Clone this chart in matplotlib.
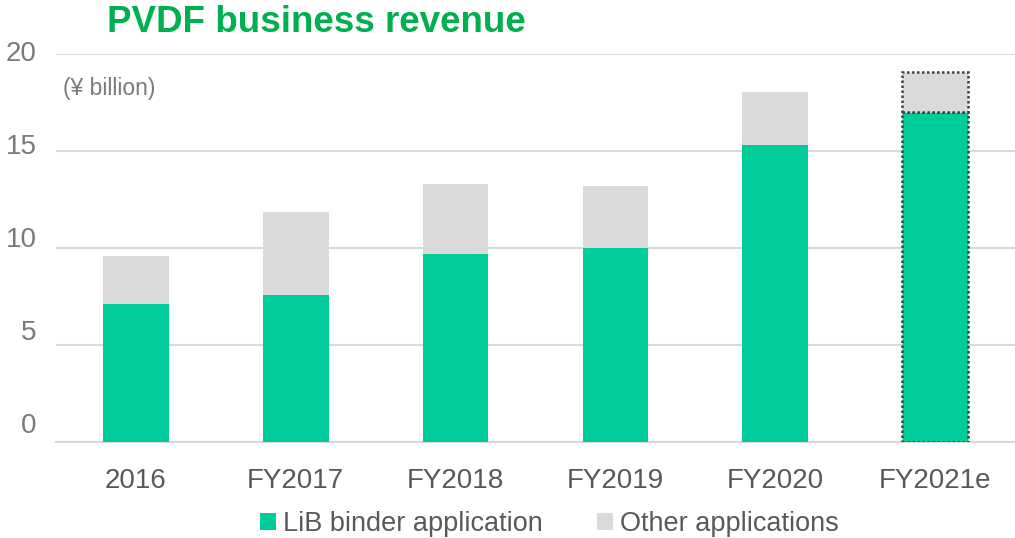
import matplotlib
matplotlib.use("Agg")
import matplotlib.pyplot as plt
import matplotlib.transforms as mtransforms
from matplotlib.patches import Patch

plt.rcParams['font.family'] = ['Liberation Sans', 'DejaVu Sans']

categories = ["2016", "FY2017", "FY2018", "FY2019", "FY2020", "FY2021e"]
lib_binder = [7.1, 7.6, 9.7, 10.0, 15.3, 17.0]
other_apps = [2.5, 4.25, 3.6, 3.2, 2.75, 2.05]
y_ticks = [0, 5, 10, 15, 20]

green = "#00CC99"
grey = "#DADADA"
text_col = "#595959"
ytext_col = "#7A7A7A"
grid_col = "#D9D9D9"

fig = plt.figure(figsize=(10.15, 5.38), dpi=100)
ax = fig.add_axes([56/1015, 96/538, 959/1015, 388/538])

x = list(range(len(categories)))
w = 0.41
b1 = ax.bar(x, lib_binder, width=w, color=green, zorder=3)
b2 = ax.bar(x, other_apps, width=w, bottom=lib_binder, color=grey, zorder=3)

# estimate bar outlined dotted
for bar in (b1[-1], b2[-1]):
    bar.set_edgecolor("#404040")
    bar.set_linestyle((0, (1, 1)))
    bar.set_linewidth(1.8)

ax.set_xlim(-0.5, len(categories) - 0.5)
ax.set_ylim(0, 20)
ax.set_yticks(y_ticks)
ax.set_xticks(x)
ax.set_xticklabels(categories)
ax.yaxis.grid(True, color=grid_col, linewidth=1.5, zorder=0)
ax.set_axisbelow(True)
for s in ["top", "right", "left"]:
    ax.spines[s].set_visible(False)
ax.spines["bottom"].set_color(grid_col)
ax.spines["bottom"].set_linewidth(1.5)
ax.tick_params(axis="both", length=0, labelsize=20)
ax.tick_params(axis="x", pad=19, colors=text_col)
ax.tick_params(axis="y", pad=14, colors=ytext_col)
for lab, v in zip(ax.get_yticklabels(), y_ticks):
    off = mtransforms.ScaledTranslation(0, (19 - 0.8 * v) / 100, fig.dpi_scale_trans)
    lab.set_transform(lab.get_transform() + off)

fig.text(107/1015, 1 - 23/538, "PVDF business revenue", color="#00B050",
         fontsize=26.5, fontweight="bold", ha="left", va="center")
fig.text(63/1015, 1 - 89/538, "(¥ billion)", color=ytext_col,
         fontsize=16.5, ha="left", va="center")

handles = [Patch(facecolor=green, edgecolor="none"),
           Patch(facecolor=grey, edgecolor="none")]
fig.legend(handles, ["LiB binder application", "Other applications"],
           loc="center", bbox_to_anchor=(549/1015, 1 - 524/538), ncol=2,
           frameon=False, fontsize=19.5, labelcolor=text_col,
           handlelength=0.6, handleheight=0.6, handletextpad=0.25,
           columnspacing=2.0)

fig.savefig("out.png", dpi=100)
